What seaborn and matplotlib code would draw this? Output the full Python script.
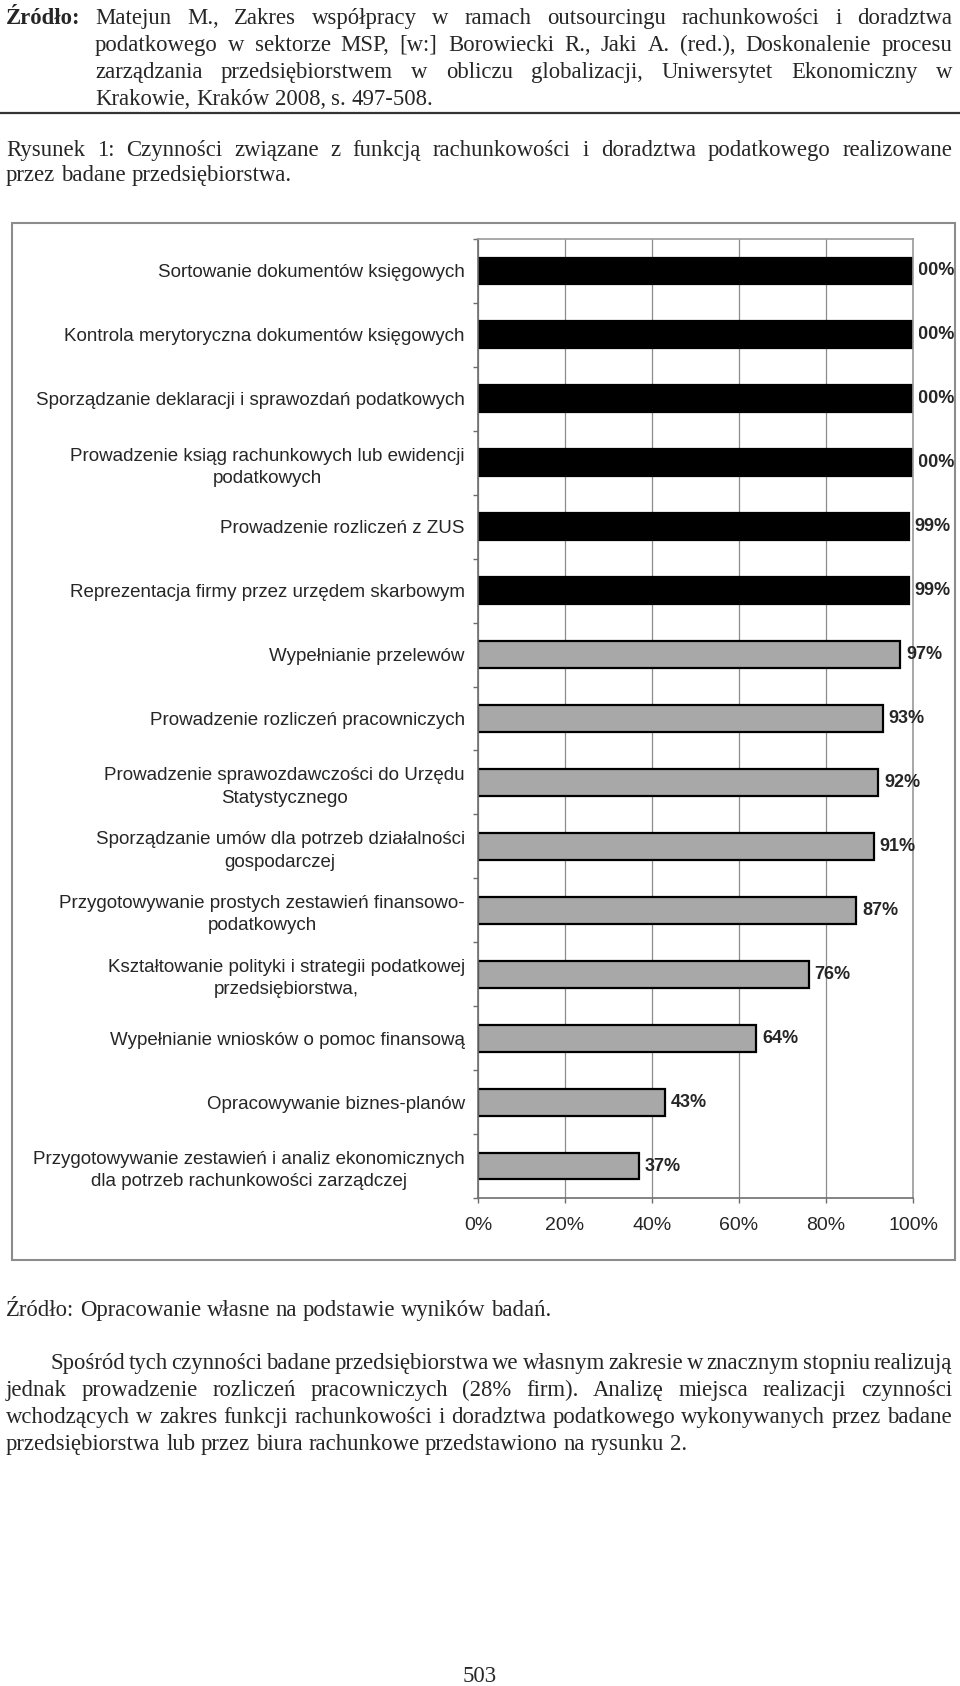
import numpy as np
import pandas as pd
import matplotlib
matplotlib.use("Agg")
import matplotlib.pyplot as plt
import matplotlib.transforms as mtrans
from matplotlib.patches import Rectangle
from matplotlib.lines import Line2D
import seaborn as sns

# ---------------- data ----------------
categories = [
    "Sortowanie dokumentów księgowych",
    "Kontrola merytoryczna dokumentów księgowych",
    "Sporządzanie deklaracji i sprawozdań podatkowych",
    "Prowadzenie ksiąg rachunkowych lub ewidencji\npodatkowych",
    "Prowadzenie rozliczeń z ZUS",
    "Reprezentacja firmy przez urzędem skarbowym",
    "Wypełnianie przelewów",
    "Prowadzenie rozliczeń pracowniczych",
    "Prowadzenie sprawozdawczości do Urzędu\nStatystycznego",
    "Sporządzanie umów dla potrzeb działalności\ngospodarczej",
    "Przygotowywanie prostych zestawień finansowo-\npodatkowych",
    "Kształtowanie polityki i strategii podatkowej\nprzedsiębiorstwa,",
    "Wypełnianie wniosków o pomoc finansową",
    "Opracowywanie biznes-planów",
    "Przygotowywanie zestawień i analiz ekonomicznych\ndla potrzeb rachunkowości zarządczej",
]
values = [100, 100, 100, 100, 99, 99, 97, 93, 92, 91, 87, 76, 64, 43, 37]
bar_fill = ["#000000"] * 6 + ["#a8a8a8"] * 9
x_ticks = [0, 20, 40, 60, 80, 100]
x_tick_labels = ["0%", "20%", "40%", "60%", "80%", "100%"]

header_first_bold = "Źródło:"
header_lines = [
    "Matejun M., Zakres współpracy w ramach outsourcingu rachunkowości i doradztwa",
    "podatkowego w sektorze MSP, [w:] Borowiecki R., Jaki A. (red.), Doskonalenie procesu",
    "zarządzania przedsiębiorstwem w obliczu globalizacji,  Uniwersytet Ekonomiczny w",
    "Krakowie, Kraków 2008, s. 497-508.",
]
caption_lines = [
    "Rysunek 1: Czynności związane z funkcją rachunkowości i doradztwa podatkowego realizowane",
    "przez badane przedsiębiorstwa.",
]
source_line = "Źródło: Opracowanie własne na podstawie wyników badań."
para_lines = [
    "Spośród tych czynności badane przedsiębiorstwa we własnym zakresie w znacznym stopniu realizują",
    "jednak prowadzenie rozliczeń pracowniczych (28% firm). Analizę miejsca realizacji czynności",
    "wchodzących w zakres funkcji rachunkowości i doradztwa podatkowego wykonywanych przez badane",
    "przedsiębiorstwa lub przez biura rachunkowe przedstawiono na rysunku 2.",
]
page_number = "503"

# ---------------- style ----------------
W, H = 960, 1686
sns.set_style("white")
SANS = ["Liberation Sans", "DejaVu Sans"]
SERIF = ["Liberation Serif", "DejaVu Serif"]
plt.rcParams["font.family"] = SANS

fig = plt.figure(figsize=(W / 100, H / 100), dpi=100)
fig.patch.set_facecolor("white")
ax = fig.add_axes([478 / W, 1 - 1198 / H, 435 / W, 959 / H])

df = pd.DataFrame({"czynnosc": categories, "procent": values})
sns.barplot(data=df, x="procent", y="czynnosc", hue="czynnosc", palette=bar_fill,
            dodge=False, legend=False, width=0.42, edgecolor="black", linewidth=1.6,
            saturation=1, ax=ax)

ax.set_xlim(0, 100)
ax.set_ylim(len(categories) - 0.5, -0.5)
ax.set_xlabel("")
ax.set_ylabel("")
ax.set_axisbelow(True)
ax.grid(axis="x", color="#8c8c8c", lw=0.9)
ax.grid(axis="y", visible=False)

ax.set_xticks(x_ticks)
ax.set_xticklabels(x_tick_labels, fontsize=14)
ax.tick_params(axis="x", which="major", direction="out", length=3.6, width=1,
               color="#6e6e6e", pad=10, bottom=True)
ax.tick_params(axis="y", which="major", length=0, pad=9.5, labelsize=13.5)
ax.set_yticks(np.arange(-0.5, len(categories), 1), minor=True)
ax.tick_params(axis="y", which="minor", direction="out", length=3.6, width=1,
               color="#6e6e6e", left=True)
for lbl in ax.get_yticklabels():
    lbl.set_multialignment("center")
    lbl.set_linespacing(1.4)

for side in ["left", "bottom"]:
    ax.spines[side].set_color("#6e6e6e")
    ax.spines[side].set_linewidth(1.2)
for side in ["top", "right"]:
    ax.spines[side].set_color("#9a9a9a")
    ax.spines[side].set_linewidth(1.2)

renderer = fig.canvas.get_renderer()
ident = mtrans.IdentityTransform()

# value labels (labels pushed against the frame are cut at the bar end, like the original)
for i, v in enumerate(values):
    xe, yc = ax.transData.transform((v, i))
    t = fig.text(xe + 6, yc, f"{v}%", transform=ident, fontsize=13, fontweight="bold",
                 ha="left", va="center", family=SANS, zorder=3)
    w = t.get_window_extent(renderer).width
    if xe + 6 + w > 955:
        t.set_x(955 - w)
        t.set_clip_box(mtrans.Bbox([[xe + 5.5, 0], [W, H]]))
        t.set_clip_on(True)

# chart frame
fig.add_artist(Rectangle((12 / W, 1 - 1260 / H), (955 - 12) / W, (1260 - 223) / H,
                         transform=fig.transFigure, fill=False, edgecolor="#8c8c8c", lw=1.5))
# rule under header
fig.add_artist(Line2D([0, 1], [1 - 113 / H] * 2, transform=fig.transFigure, color="#333333", lw=1.6))

FS = 16.4


def put(x, yb, s, size=FS, weight="normal", ha="left"):
    return fig.text(x, H - yb, s, transform=ident, fontsize=size, fontweight=weight,
                    ha=ha, va="baseline", family=SERIF)


def line(text, x0, x1, yb, justify=True, size=FS):
    words = text.split()
    ts = [put(0, yb, w, size) for w in words]
    ws = [t.get_window_extent(renderer).width for t in ts]
    space = 0.25 * size * 100 / 72
    if justify and len(words) > 1:
        gap = max((x1 - x0 - sum(ws)) / (len(words) - 1), 2)
    else:
        gap = space
    x = x0
    for t, w in zip(ts, ws):
        t.set_x(x)
        x += w + gap


# header
put(6, 24, header_first_bold, weight="bold")
ys = [24, 51, 78, 105]
for k, (txt, yb) in enumerate(zip(header_lines, ys)):
    line(txt, 95, 952, yb, justify=(k < 3))

line(caption_lines[0], 6, 952, 156, justify=True)
line(caption_lines[1], 6, 952, 181, justify=False)

line(source_line, 6, 952, 1316, justify=False)
pys = [1369, 1396, 1423, 1450]
for k, (txt, yb) in enumerate(zip(para_lines, pys)):
    line(txt, 50 if k == 0 else 6, 952, yb, justify=(k < 3))

put(480, 1682, page_number, ha="center")

fig.savefig("out.png", dpi=100, facecolor="white")
